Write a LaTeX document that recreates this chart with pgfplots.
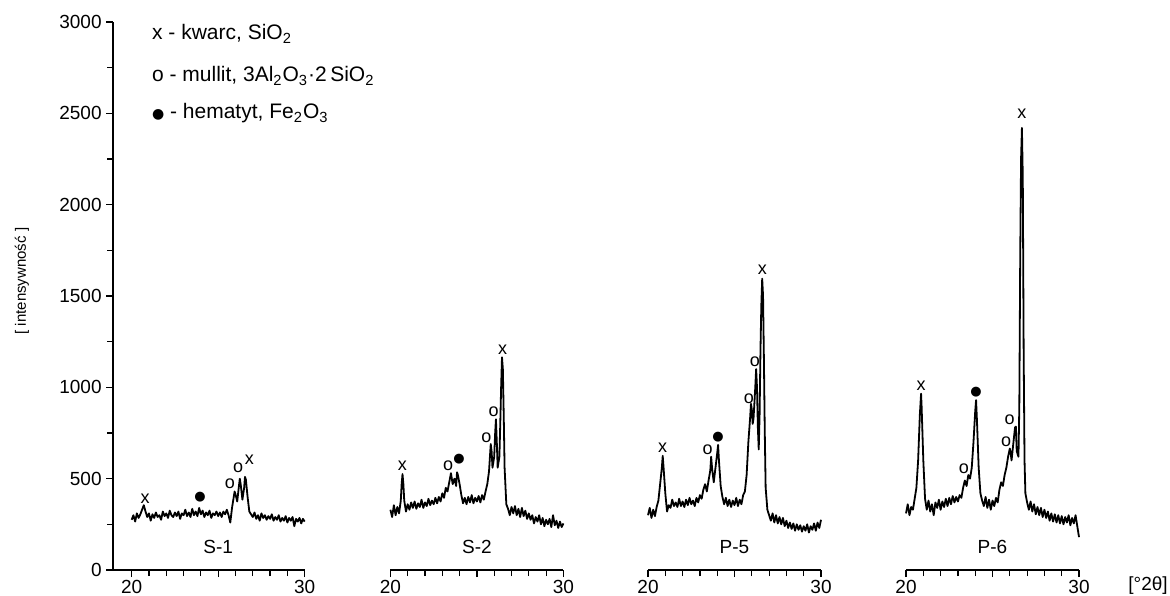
\documentclass[border=0pt]{standalone}
\usepackage{pgfplots}
\pgfplotsset{compat=1.18}
\usepackage{pgfplotstable}
\usepackage{fontspec}
\setmainfont{Liberation Sans}
\newfontfamily\djv{DejaVu Sans}

\pgfplotstableread{
x y
20.0 275
20.1 300
20.2 265
20.3 310
20.4 285
20.5 305
20.6 330
20.7 355
20.8 320
20.9 290
21.0 310
21.1 270
21.2 305
21.3 285
21.4 315
21.5 290
21.6 300
21.7 275
21.8 320
21.9 295
22.0 310
22.1 285
22.2 325
22.3 300
22.4 290
22.5 315
22.6 295
22.7 320
22.8 280
22.9 310
23.0 300
23.1 330
23.2 295
23.3 315
23.4 290
23.5 335
23.6 300
23.7 320
23.8 295
23.9 340
24.0 305
24.1 325
24.2 290
24.3 315
24.4 300
24.5 325
24.6 285
24.7 310
24.8 300
24.9 320
25.0 295
25.1 315
25.2 290
25.3 320
25.4 305
25.5 330
25.6 300
25.7 260
25.8 340
25.9 400
25.95 430
26.0 415
26.1 375
26.2 460
26.25 500
26.3 470
26.4 385
26.5 450
26.55 510
26.6 495
26.7 400
26.8 320
26.9 305
27.0 290
27.1 315
27.2 280
27.3 300
27.4 270
27.5 310
27.6 285
27.7 300
27.8 275
27.9 295
28.0 280
28.1 305
28.2 270
28.3 290
28.4 275
28.5 300
28.6 265
28.7 285
28.8 270
28.9 295
29.0 260
29.1 285
29.2 270
29.3 290
29.4 240
29.5 280
29.6 265
29.7 285
29.8 255
29.9 280
30.0 265
}\dataSone

\pgfplotstableread{
x y
20.0 330
20.1 290
20.2 355
20.3 300
20.4 345
20.5 310
20.6 380
20.65 470
20.7 525
20.75 470
20.8 380
20.9 320
21.0 360
21.1 330
21.2 370
21.3 340
21.4 375
21.5 335
21.6 365
21.7 345
21.8 385
21.9 340
22.0 370
22.1 350
22.2 390
22.3 355
22.4 380
22.5 360
22.6 395
22.7 365
22.8 400
22.9 375
23.0 420
23.1 395
23.2 450
23.3 430
23.4 480
23.5 530
23.6 470
23.7 500
23.8 460
23.85 535
23.9 520
24.0 470
24.1 410
24.2 365
24.3 395
24.4 360
24.5 400
24.6 370
24.7 410
24.8 365
24.9 395
25.0 375
25.1 405
25.2 370
25.3 410
25.4 385
25.5 430
25.6 470
25.7 540
25.8 690
25.85 650
25.9 560
26.0 620
26.05 740
26.1 825
26.15 700
26.2 560
26.3 620
26.35 800
26.4 1000
26.45 1165
26.5 1100
26.55 850
26.6 560
26.7 360
26.8 335
26.9 300
27.0 345
27.1 310
27.2 350
27.3 300
27.4 335
27.5 290
27.6 340
27.7 295
27.8 325
27.9 280
28.0 310
28.1 275
28.2 300
28.3 255
28.4 290
28.5 265
28.6 300
28.7 250
28.8 285
28.9 240
29.0 275
29.1 250
29.2 280
29.3 235
29.4 300
29.5 245
29.6 270
29.7 230
29.8 265
29.9 235
30.0 255
}\dataStwo

\pgfplotstableread{
x y
20.0 300
20.1 340
20.2 285
20.3 330
20.4 295
20.5 345
20.6 380
20.7 470
20.8 560
20.85 625
20.9 560
21.0 420
21.1 320
21.2 355
21.3 340
21.4 385
21.5 350
21.6 370
21.7 345
21.8 390
21.9 350
22.0 375
22.1 345
22.2 385
22.3 355
22.4 395
22.5 360
22.6 380
22.7 350
22.8 395
22.9 370
23.0 410
23.1 390
23.2 440
23.3 470
23.4 430
23.5 490
23.6 545
23.65 620
23.7 560
23.8 480
23.9 560
24.0 640
24.05 685
24.1 600
24.2 460
24.3 400
24.4 360
24.5 395
24.6 350
24.7 385
24.8 345
24.9 380
25.0 355
25.1 395
25.2 350
25.3 385
25.4 360
25.5 410
25.6 430
25.7 520
25.8 700
25.9 830
25.95 910
26.0 880
26.05 800
26.1 830
26.2 1000
26.25 1100
26.3 1000
26.35 780
26.4 660
26.45 850
26.5 1200
26.55 1450
26.6 1595
26.65 1500
26.7 1150
26.75 750
26.8 450
26.9 330
27.0 300
27.1 270
27.2 310
27.3 260
27.4 300
27.5 255
27.6 290
27.7 250
27.8 285
27.9 240
28.0 270
28.1 230
28.2 260
28.3 225
28.4 255
28.5 215
28.6 250
28.7 220
28.8 245
28.9 210
29.0 240
29.1 215
29.2 250
29.3 205
29.4 240
29.5 220
29.6 255
29.7 215
29.8 260
29.9 230
30.0 275
}\dataPfive

\pgfplotstableread{
x y
20.0 310
20.1 360
20.2 300
20.3 345
20.4 330
20.5 390
20.6 450
20.7 600
20.8 850
20.87 965
20.9 900
21.0 600
21.1 390
21.2 330
21.3 380
21.4 320
21.5 360
21.6 300
21.7 370
21.8 340
21.9 385
22.0 330
22.1 375
22.2 345
22.3 390
22.4 350
22.5 395
22.6 360
22.7 405
22.8 370
22.9 400
23.0 375
23.1 410
23.2 395
23.3 450
23.4 490
23.5 460
23.6 520
23.7 500
23.8 560
23.9 700
24.0 870
24.05 930
24.1 820
24.2 560
24.3 420
24.4 380
24.5 350
24.6 400
24.7 340
24.8 385
24.9 330
25.0 380
25.1 350
25.2 395
25.3 370
25.4 440
25.5 480
25.6 460
25.7 520
25.8 560
25.9 620
26.0 665
26.05 640
26.1 600
26.2 690
26.3 780
26.35 785
26.4 650
26.5 620
26.55 900
26.6 1700
26.65 2250
26.7 2420
26.75 2150
26.8 1200
26.85 600
26.9 420
27.0 370
27.1 330
27.2 375
27.3 320
27.4 360
27.5 305
27.6 345
27.7 300
27.8 340
27.9 290
28.0 330
28.1 285
28.2 320
28.3 270
28.4 310
28.5 265
28.6 305
28.7 260
28.8 300
28.9 255
29.0 295
29.1 250
29.2 290
29.3 260
29.4 300
29.5 245
29.6 285
29.7 255
29.8 300
29.9 240
30.0 180
}\dataPsix

\tikzset{
  ann/.style={font=\fontsize{9}{10}\selectfont, inner sep=0pt},
  dot/.style={font=\djv\fontsize{6.5}{8}\selectfont, inner sep=0pt},
  lab/.style={font=\fontsize{9.5}{11}\selectfont, inner sep=0pt},
}
\pgfplotsset{
  panel/.style={
    scale only axis, height=274pt, width=86.5pt,
    ymin=0, ymax=3000, xmin=20, xmax=30,
    axis x line*=bottom,
    axis line style={-, line width=0.6pt, black},
    xtick={20,25,30}, xticklabels={20,,30}, minor x tick num=4,
    tick align=outside, major tick length=3.5pt, minor tick length=3pt,
    every tick/.style={line width=0.6pt, black},
    every minor tick/.style={line width=0.6pt, black},
    /pgf/number format/assume math mode=true,
    /pgf/number format/1000 sep={},
    tick label style={font=\fontsize{9.5}{11}\selectfont},
    xticklabel style={inner sep=1.5pt},
    yticklabel style={inner sep=2pt},
    clip=false, anchor=south west,
  },
  noy/.style={axis y line*=left, y axis line style={draw=none}, ytick=\empty},
  curve/.style={black, line width=0.9pt, mark=none, line join=round},
}

\begin{document}
\begin{tikzpicture}
\path[use as bounding box] (0,0) rectangle (585pt,297.5pt);

% Panel S-1 (with y axis)
\begin{axis}[panel, at={(56.5pt,12.5pt)}, width=95.84pt, xmin=18.92,
  axis y line*=left, ytick={0,500,...,3000}, minor y tick num=1]
\addplot[curve] table {\dataSone};
\node[ann] at (axis cs:20.77,392) {x};
\node[dot] at (axis cs:23.95,398) {●};
\node[ann] at (axis cs:25.68,471) {o};
\node[ann] at (axis cs:26.16,562) {o};
\node[ann] at (axis cs:26.80,606) {x};
\node[lab] at (axis cs:25,126) {S-1};
\end{axis}

% Panel S-2
\begin{axis}[panel, noy, at={(195.2pt,12.5pt)}]
\addplot[curve] table {\dataStwo};
\node[ann] at (axis cs:20.69,569) {x};
\node[ann] at (axis cs:23.33,569) {o};
\node[dot] at (axis cs:23.97,607) {●};
\node[ann] at (axis cs:25.55,726) {o};
\node[ann] at (axis cs:25.97,867) {o};
\node[ann] at (axis cs:26.48,1208) {x};
\node[lab] at (axis cs:25,126) {S-2};
\end{axis}

% Panel P-5
\begin{axis}[panel, noy, at={(324pt,12.5pt)}]
\addplot[curve] table {\dataPfive};
\node[ann] at (axis cs:20.85,672) {x};
\node[ann] at (axis cs:23.45,657) {o};
\node[dot] at (axis cs:24.05,730) {●};
\node[ann] at (axis cs:25.83,940) {o};
\node[ann] at (axis cs:26.17,1140) {o};
\node[ann] at (axis cs:26.61,1646) {x};
\node[lab] at (axis cs:25,126) {P-5};
\end{axis}

% Panel P-6
\begin{axis}[panel, noy, at={(453pt,12.5pt)}]
\addplot[curve] table {\dataPsix};
\node[ann] at (axis cs:20.87,1007) {x};
\node[ann] at (axis cs:23.35,557) {o};
\node[dot] at (axis cs:24.05,973) {●};
\node[ann] at (axis cs:25.78,702) {o};
\node[ann] at (axis cs:25.99,821) {o};
\node[ann] at (axis cs:26.70,2495) {x};
\node[lab] at (axis cs:25,126) {P-6};
\end{axis}

% legend text
\begin{scope}[every node/.style={font=\fontsize{10.5}{12}\selectfont, inner sep=0pt, anchor=base west}]
\node at (75.85pt,277.5pt) {x - kwarc, SiO\textsubscript{2}};
\node at (75.85pt,256.6pt) {o - mullit, 3Al\textsubscript{2}O\textsubscript{3}·2\,SiO\textsubscript{2}};
\node at (75.85pt,238pt) {{\djv\fontsize{7}{9}\selectfont ●} - hematyt, Fe\textsubscript{2}O\textsubscript{3}};
\end{scope}

% axis labels
\node[rotate=90, font=\fontsize{7.5}{9}\selectfont, inner sep=0pt] at (11pt,157pt) {[ intensywność ]};
\node[font=\fontsize{9.5}{11}\selectfont, inner sep=0pt] at (574pt,4.5pt) {[°2θ]};
\end{tikzpicture}
\end{document}
